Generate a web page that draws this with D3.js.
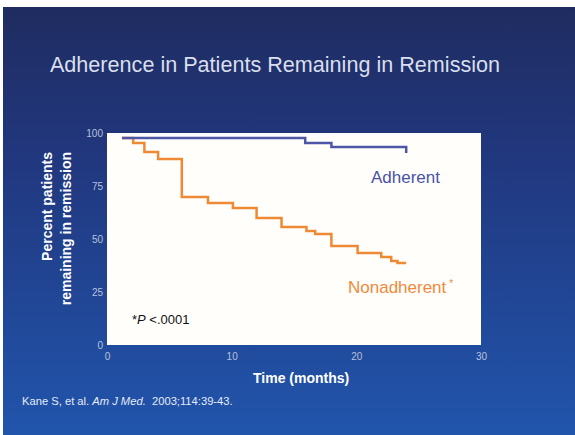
<!DOCTYPE html>
<html>
<head>
<meta charset="utf-8">
<script src="https://cdn.jsdelivr.net/npm/d3@7"></script>
<style>
  html, body { margin: 0; padding: 0; background: #fff; }
  svg { display: block; }
</style>
</head>
<body>
<svg id="chart" width="575" height="435"></svg>
<script>
// Kaplan–Meier style remission curves (time in months, percent in remission)
const adherentTime = [1.2, 15.9, 18.0, 24.0];
const adherentPct  = [97.6, 95.3, 93.4, 90.6];

const nonadherentTime = [1.2, 2.1, 3.0, 4.1, 6.0, 8.1, 10.1, 12.0, 14.0, 16.0, 16.7, 18.0, 20.1, 22.0, 22.8, 23.3, 24.0];
const nonadherentPct  = [97.6, 95.3, 91.0, 87.7, 69.8, 67.0, 64.6, 59.9, 55.7, 53.8, 52.4, 46.7, 43.4, 41.5, 39.6, 38.7, 38.7];

const xTicks = [0, 10, 20, 30];
const yTicks = [0, 25, 50, 75, 100];

const svg = d3.select("#chart");
const W = 575, H = 435;

// slide background
const defs = svg.append("defs");
const grad = defs.append("linearGradient").attr("id", "bg").attr("x1", 0).attr("y1", 0).attr("x2", 0).attr("y2", 1);
grad.append("stop").attr("offset", "0%").attr("stop-color", "#1f2c60");
grad.append("stop").attr("offset", "35%").attr("stop-color", "#21377e");
grad.append("stop").attr("offset", "100%").attr("stop-color", "#2155ac");
svg.append("rect").attr("x", 3).attr("y", 7).attr("width", W - 3).attr("height", H - 7).attr("fill", "url(#bg)");

// title
svg.append("text")
  .attr("x", 275).attr("y", 72)
  .attr("text-anchor", "middle")
  .attr("font-family", "Liberation Sans, Arial, sans-serif")
  .attr("font-size", 21.6)
  .attr("fill", "#d9dfec")
  .text("Adherence in Patients Remaining in Remission");

const x = d3.scaleLinear().domain([0, 30]).range([107, 481]);
const y = d3.scaleLinear().domain([0, 100]).range([345, 133]);

// plot panel
svg.append("rect")
  .attr("x", x(0)).attr("y", y(100))
  .attr("width", x(30) - x(0)).attr("height", y(0) - y(100))
  .attr("fill", "#fffefb");

// axes (labels only)
const tickFont = "Liberation Sans, Arial, sans-serif";
const yAxis = svg.append("g").attr("transform", `translate(${x(0) - 4},0)`)
  .call(d3.axisLeft(y).tickValues(yTicks).tickSize(0).tickPadding(0));
yAxis.select(".domain").remove();
yAxis.selectAll("text").attr("font-family", tickFont).attr("font-size", 10).attr("fill", "#b7c1dc");

const xAxis = svg.append("g").attr("transform", `translate(0,${y(0) + 8})`)
  .call(d3.axisBottom(x).tickValues(xTicks).tickSize(0).tickPadding(0));
xAxis.select(".domain").remove();
xAxis.selectAll("text").attr("font-family", tickFont).attr("font-size", 10).attr("fill", "#b7c1dc");

// axis titles
svg.append("text")
  .attr("x", 253).attr("y", 383)
  .attr("font-family", tickFont).attr("font-weight", "bold").attr("font-size", 14)
  .attr("fill", "#ffffff")
  .text("Time (months)");

const yTitle = svg.append("text")
  .attr("transform", "translate(52,152) rotate(-90)")
  .attr("text-anchor", "end")
  .attr("font-family", tickFont).attr("font-weight", "bold").attr("font-size", 14)
  .attr("fill", "#ffffff");
yTitle.append("tspan").attr("x", 0).attr("dy", 0).text("Percent patients");
yTitle.append("tspan").attr("x", 0).attr("dy", 19).text("remaining in remission");

// curves
const line = d3.line().x(d => x(d[0])).y(d => y(d[1])).curve(d3.curveStepAfter);
const adherent = adherentTime.map((t, i) => [t, adherentPct[i]]);
const nonadherent = nonadherentTime.map((t, i) => [t, nonadherentPct[i]]);

svg.append("path").datum(nonadherent)
  .attr("d", line).attr("fill", "none")
  .attr("stroke", "#ef8a34").attr("stroke-width", 2.5);
svg.append("path").datum(adherent)
  .attr("d", line).attr("fill", "none")
  .attr("stroke", "#4d57a8").attr("stroke-width", 2.5);

// series labels
svg.append("text")
  .attr("x", 371).attr("y", 183)
  .attr("font-family", tickFont).attr("font-size", 17)
  .attr("fill", "#4a52a8")
  .text("Adherent");

const nonLbl = svg.append("text")
  .attr("x", 348).attr("y", 293)
  .attr("font-family", tickFont).attr("font-size", 17)
  .attr("fill", "#f08a3c");
nonLbl.append("tspan").text("Nonadherent");
nonLbl.append("tspan").attr("dx", 3).attr("dy", -6).attr("font-size", 10).text("*");

// significance note
const pNote = svg.append("text")
  .attr("x", 132).attr("y", 324)
  .attr("font-family", tickFont).attr("font-size", 13)
  .attr("fill", "#111111");
pNote.append("tspan").text("*");
pNote.append("tspan").attr("font-style", "italic").text("P");
pNote.append("tspan").text(" <.0001");

// citation
const cite = svg.append("text")
  .attr("x", 22).attr("y", 405)
  .attr("font-family", tickFont).attr("font-size", 11.2)
  .attr("fill", "#e6ebf5");
cite.append("tspan").text("Kane S, et al. ");
cite.append("tspan").attr("font-style", "italic").text("Am J Med.");
cite.append("tspan").text("\u00a0 2003;114:39-43.");
</script>
</body>
</html>
